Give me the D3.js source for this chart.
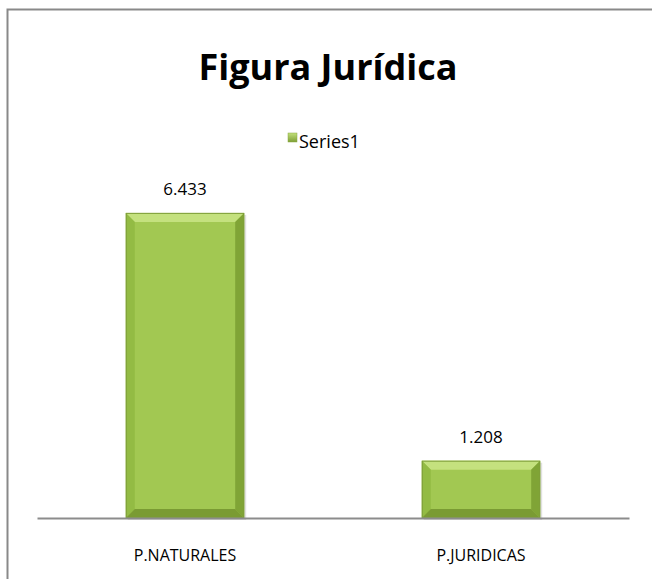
<!DOCTYPE html>
<html>
<head>
<meta charset="utf-8">
<script src="https://d3js.org/d3.v7.min.js"></script>
<style>
  html, body { margin: 0; padding: 0; background: white; overflow: hidden; }
  svg { display: block; }
</style>
</head>
<body>
<div id="my_dataviz"></div>
<script>
// chart data
var categories = ["P.NATURALES", "P.JURIDICAS"];
var values = [6433, 1208];
var valueLabels = ["6.433", "1.208"];
var seriesName = "Series1";
var title = "Figura Jurídica";

var W = 652, H = 579;
var font = "'Open Sans', 'Noto Sans', sans-serif";

var svg = d3.select("#my_dataviz").append("svg")
    .attr("width", W).attr("height", H);

// outer frame: only top and left edges show, the rest runs off the picture
svg.append("path")
    .attr("d", "M7.5," + H + "V9.5H" + W)
    .attr("fill", "none").attr("stroke", "#898989").attr("stroke-width", 2);

// title
svg.append("text")
    .attr("x", 328).attr("y", 80)
    .attr("text-anchor", "middle")
    .style("font-family", font).style("font-weight", "bold").style("font-size", "36px")
    .text(title);

// legend
var defs = svg.append("defs");
var lg = defs.append("linearGradient").attr("id", "legendGrad")
    .attr("x1", 0).attr("y1", 0).attr("x2", 0).attr("y2", 1);
lg.append("stop").attr("offset", "0%").attr("stop-color", "#c2e07a");
lg.append("stop").attr("offset", "100%").attr("stop-color", "#7e9f36");
svg.append("rect")
    .attr("x", 288).attr("y", 133).attr("width", 9).attr("height", 9)
    .attr("fill", "url(#legendGrad)").attr("stroke", "#8aa843").attr("stroke-width", 0.5);
svg.append("text")
    .attr("x", 299).attr("y", 148)
    .style("font-family", font).style("font-size", "18px")
    .text(seriesName);

// scales
var x = d3.scaleBand().domain(categories).range([37, 629]).paddingInner(0.6).paddingOuter(0.3);
var y = d3.scaleLinear().domain([0, 7000]).range([518, 186]);

// bars with bevel look
var bev = 9;
var bars = svg.selectAll(".bar").data(values).enter().append("g").attr("class", "bar");

bars.each(function (d, i) {
    var g = d3.select(this);
    var x0 = x(categories[i]), x1 = x0 + x.bandwidth();
    var y0 = y(d), y1 = y(0);
    // shadow
    g.append("rect")
        .attr("x", x0 + 2).attr("y", y0 + 2)
        .attr("width", x.bandwidth()).attr("height", y1 - y0)
        .attr("fill", "#000").attr("opacity", 0.12);
    g.append("rect")
        .attr("x", x0).attr("y", y0)
        .attr("width", x.bandwidth()).attr("height", y1 - y0)
        .attr("fill", "#a2c852");
    var b = Math.min(bev, (y1 - y0) / 2);
    // top
    g.append("polygon")
        .attr("points", [[x0, y0], [x1, y0], [x1 - b, y0 + b], [x0 + b, y0 + b]].join(" "))
        .attr("fill", "#c4e17e");
    // left
    g.append("polygon")
        .attr("points", [[x0, y0], [x0 + b, y0 + b], [x0 + b, y1 - b], [x0, y1]].join(" "))
        .attr("fill", "#93bb44");
    // right
    g.append("polygon")
        .attr("points", [[x1, y0], [x1, y1], [x1 - b, y1 - b], [x1 - b, y0 + b]].join(" "))
        .attr("fill", "#80a436");
    // bottom
    g.append("polygon")
        .attr("points", [[x0, y1], [x0 + b, y1 - b], [x1 - b, y1 - b], [x1, y1]].join(" "))
        .attr("fill", "#7a9b33");
    g.append("rect")
        .attr("x", x0 + 0.5).attr("y", y0 + 0.5)
        .attr("width", x.bandwidth() - 1).attr("height", y1 - y0 - 1)
        .attr("fill", "none").attr("stroke", "#7f9f3a").attr("stroke-width", 1);
});

// value labels
svg.selectAll(".vlabel").data(values).enter().append("text")
    .attr("x", function (d, i) { return x(categories[i]) + x.bandwidth() / 2; })
    .attr("y", function (d) { return y(d) - 18; })
    .attr("text-anchor", "middle")
    .style("font-family", font).style("font-size", "17px")
    .text(function (d, i) { return valueLabels[i]; });

// x axis
var xAxis = svg.append("g")
    .attr("transform", "translate(0," + y(0) + ")")
    .call(d3.axisBottom(x).tickSize(0).tickPadding(32));
xAxis.select(".domain").attr("stroke", "#8c8c8c").attr("stroke-width", 2);
xAxis.selectAll("text")
    .style("font-family", font).style("font-size", "16px").attr("fill", "#000");
</script>
</body>
</html>
